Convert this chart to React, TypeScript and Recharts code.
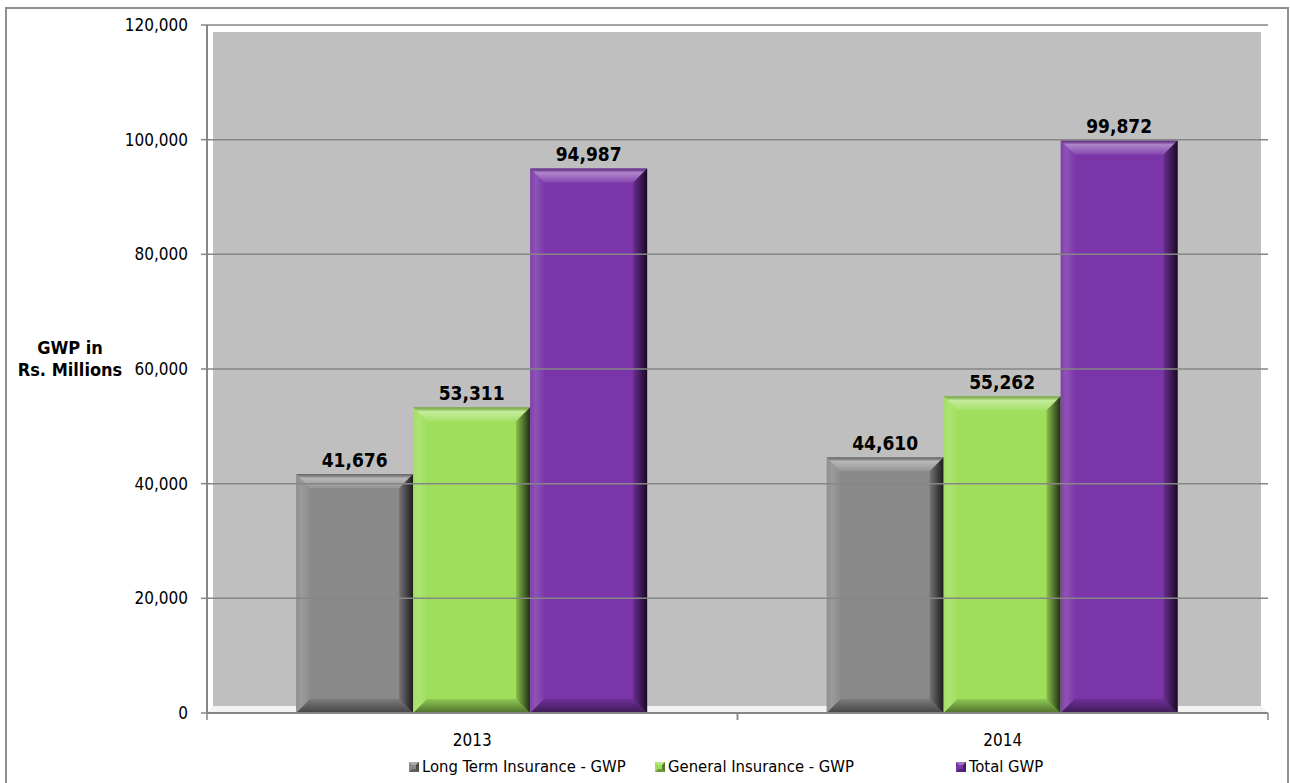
import React from 'react';
import { BarChart, Bar, XAxis, YAxis, ReferenceArea, ReferenceLine, LabelList } from 'recharts';

const categories = ['2013', '2014'];
const longTermGwp = [41676, 44610];
const generalGwp = [53311, 55262];
const totalGwp = [94987, 99872];
const yTicks = [0, 20000, 40000, 60000, 80000, 100000, 120000];

const series = [
  { key: 'longTerm', name: 'Long Term Insurance - GWP', color: '#898989' },
  { key: 'general', name: 'General Insurance - GWP', color: '#9ede5a' },
  { key: 'total', name: 'Total GWP', color: '#7a35a8' },
];

const data = categories.map((year, i) => ({
  year,
  longTerm: longTermGwp[i],
  general: generalGwp[i],
  total: totalGwp[i],
}));

const FONT = "'DejaVu Sans Condensed', 'DejaVu Sans', sans-serif";
const AXIS = '#868686';
const fmt = (v: number) => v.toLocaleString('en-US');

// bevelled bar, like the excel "cool slant" look
const BevelBar = (props: any) => {
  const { x, y, width: w, height: h, fill, index } = props;
  if (!w || !h || h <= 0) return null;
  const b = Math.min(14, w / 2, h / 2);
  const id = `bv${String(fill).replace('#', '')}${index}`;
  return (
    <g>
      <defs>
        <linearGradient id={id + 't'} x1="0" y1="0" x2="0" y2="1">
          <stop offset="0" stopColor="#000" stopOpacity={0.25} />
          <stop offset="0.3" stopColor="#fff" stopOpacity={0.4} />
          <stop offset="1" stopColor="#fff" stopOpacity={0.1} />
        </linearGradient>
        <linearGradient id={id + 'l'} x1="0" y1="0" x2="1" y2="0">
          <stop offset="0" stopColor="#fff" stopOpacity={0.05} />
          <stop offset="0.4" stopColor="#fff" stopOpacity={0.15} />
          <stop offset="1" stopColor="#fff" stopOpacity={0.02} />
        </linearGradient>
        <linearGradient id={id + 'r'} x1="0" y1="0" x2="1" y2="0">
          <stop offset="0" stopColor="#000" stopOpacity={0.15} />
          <stop offset="1" stopColor="#000" stopOpacity={0.8} />
        </linearGradient>
        <linearGradient id={id + 'b'} x1="0" y1="0" x2="0" y2="1">
          <stop offset="0" stopColor="#000" stopOpacity={0.1} />
          <stop offset="1" stopColor="#000" stopOpacity={0.5} />
        </linearGradient>
      </defs>
      <rect x={x} y={y} width={w} height={h} fill={fill} />
      <polygon points={`${x},${y} ${x + w},${y} ${x + w - b},${y + b} ${x + b},${y + b}`} fill={`url(#${id}t)`} />
      <polygon points={`${x},${y} ${x + b},${y + b} ${x + b},${y + h - b} ${x},${y + h}`} fill={`url(#${id}l)`} />
      <polygon points={`${x + w},${y} ${x + w},${y + h} ${x + w - b},${y + h - b} ${x + w - b},${y + b}`} fill={`url(#${id}r)`} />
      <polygon points={`${x},${y + h} ${x + w},${y + h} ${x + w - b},${y + h - b} ${x + b},${y + h - b}`} fill={`url(#${id}b)`} />
    </g>
  );
};

// grey back wall plus the pale floor strip
const Wall = (props: any) => {
  const { x, y, width, height } = props;
  const bottom = y + height;
  return (
    <g>
      <rect x={x + 6} y={y + 7} width={width - 13} height={height - 14} fill="#bfbfbf" />
      <polygon
        points={`${x + 6},${bottom - 7} ${x + width - 7},${bottom - 7} ${x + width},${bottom} ${x},${bottom}`}
        fill="#f3f3f3"
      />
    </g>
  );
};

const XTick = (props: any) => {
  const { x, y, payload } = props;
  const half = payload && payload.offset ? payload.offset : 0;
  return (
    <g>
      <line x1={x - half} y1={y} x2={x - half} y2={y + 7} stroke={AXIS} strokeWidth={1.5} />
      <line x1={x + half} y1={y} x2={x + half} y2={y + 7} stroke={AXIS} strokeWidth={1.5} />
      <text x={x} y={y + 33} textAnchor="middle" fontSize={17} fontFamily={FONT} fill="#000">
        {payload.value}
      </text>
    </g>
  );
};

const YTitle = () => (
  <text textAnchor="middle" fontSize={18} fontWeight="bold" fontFamily={FONT} fill="#000">
    <tspan x={70} y={354}>GWP in</tspan>
    <tspan x={70} y={376}>Rs. Millions</tspan>
  </text>
);

const LegendIcon = ({ color }: { color: string }) => (
  <svg width={10} height={10} style={{ display: 'block' }}>
    <rect x={0} y={0} width={10} height={10} fill={color} />
    <polygon points="0,0 10,0 7,3 3,3" fill="#fff" fillOpacity={0.3} />
    <polygon points="10,0 10,10 7,7 7,3" fill="#000" fillOpacity={0.45} />
    <polygon points="0,10 10,10 7,7 3,7" fill="#000" fillOpacity={0.3} />
  </svg>
);

const legendLeft = [409, 655, 956];

const App = () => {
  return (
    <div style={{ position: 'absolute', left: 0, top: 0, width: 1290, height: 783, background: '#fff', overflow: 'hidden' }}>
      <div
        style={{
          position: 'absolute',
          left: 5,
          top: 7,
          width: 1284,
          height: 800,
          border: '2px solid #8f8f8f',
          boxSizing: 'border-box',
        }}
      />
      <div style={{ position: 'absolute', left: 0, top: 0 }}>
        <BarChart
          width={1290}
          height={750}
          data={data}
          margin={{ top: 25, right: 22, left: 0, bottom: 0 }}
          barCategoryGap="16.8%"
          barGap={0}
        >
          <ReferenceArea y1={0} y2={120000} shape={<Wall />} ifOverflow="visible" />
          {yTicks.slice(1).map((t) => (
            <ReferenceLine key={t} y={t} stroke={AXIS} strokeWidth={1.5} />
          ))}
          <XAxis
            dataKey="year"
            height={37}
            axisLine={{ stroke: AXIS, strokeWidth: 2 }}
            tickLine={false}
            tickSize={0}
            tickMargin={0}
            tick={<XTick />}
            interval={0}
          />
          <YAxis
            width={207}
            domain={[0, 120000]}
            ticks={yTicks}
            interval={0}
            tickFormatter={fmt}
            tick={{ fill: '#000', fontSize: 17, fontFamily: FONT }}
            axisLine={{ stroke: AXIS, strokeWidth: 2 }}
            tickLine={{ stroke: AXIS, strokeWidth: 1.5 }}
            tickSize={6}
            tickMargin={13}
            label={{ content: <YTitle /> }}
          />
          {series.map((s) => (
            <Bar key={s.key} dataKey={s.key} name={s.name} fill={s.color} shape={<BevelBar />} isAnimationActive={false}>
              <LabelList
                dataKey={s.key}
                position="top"
                offset={7}
                formatter={(v: any) => fmt(Number(v))}
                style={{ fontSize: 19, fontWeight: 'bold', fontFamily: FONT, fill: '#000' }}
              />
            </Bar>
          ))}
        </BarChart>
      </div>
      {series.map((s, i) => (
        <div
          key={s.key}
          style={{
            position: 'absolute',
            left: legendLeft[i],
            top: 757,
            display: 'flex',
            alignItems: 'center',
            fontFamily: FONT,
            fontSize: 16.5,
            color: '#000',
            whiteSpace: 'nowrap',
          }}
        >
          <LegendIcon color={s.color} />
          <span style={{ marginLeft: 3 }}>{s.name}</span>
        </div>
      ))}
    </div>
  );
};

export default App;
